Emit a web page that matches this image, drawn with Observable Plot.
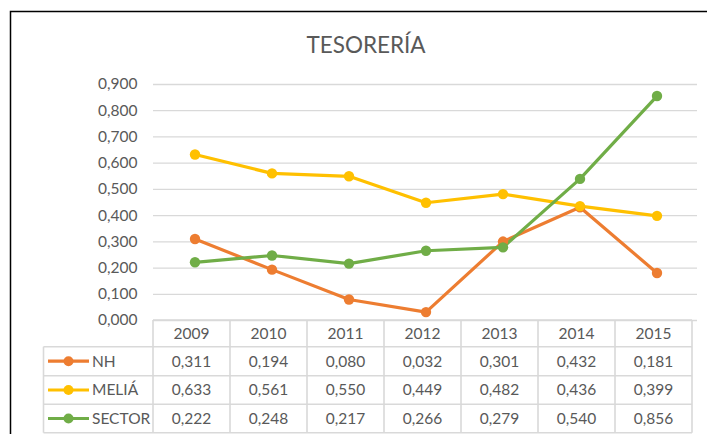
<!DOCTYPE html>
<html>
<head>
<meta charset="utf-8">
<script src="https://cdn.jsdelivr.net/npm/d3@7"></script>
<script src="https://cdn.jsdelivr.net/npm/@observablehq/plot@0.6"></script>
<style>
  body { margin: 0; background: #fff; }
  #wrap { position: relative; width: 707px; height: 434px; }
</style>
</head>
<body>
<div id="wrap"></div>
<script>
const title = "TESORERÍA";
const years = ["2009", "2010", "2011", "2012", "2013", "2014", "2015"];
const seriesNames = ["NH", "MELIÁ", "SECTOR"];
const nh = [0.311, 0.194, 0.080, 0.032, 0.301, 0.432, 0.181];
const melia = [0.633, 0.561, 0.550, 0.449, 0.482, 0.436, 0.399];
const sector = [0.222, 0.248, 0.217, 0.266, 0.279, 0.540, 0.856];
const yTicks = [0, 0.1, 0.2, 0.3, 0.4, 0.5, 0.6, 0.7, 0.8, 0.9];
const colors = ["#ED7D31", "#FFC000", "#70AD47"];

const valuesBySeries = [nh, melia, sector];
const data = [];
seriesNames.forEach((s, i) => years.forEach((yr, j) => data.push({series: s, year: yr, value: valuesBySeries[i][j]})));

const fmt = v => v.toFixed(3).replace(".", ",");
const FONT = "Lato, 'Open Sans', sans-serif";
const TXT = "#595959";
const GRID = "#D9D9D9";
const FS = 15.5;

const W = 707, H = 434;
const mL = 153, mR = 10, mT = 84, mB = 114;

const plot = Plot.plot({
  width: W, height: H,
  marginLeft: mL, marginRight: mR, marginTop: mT, marginBottom: mB,
  style: {fontFamily: FONT, fontSize: FS + "px", color: TXT, background: "transparent"},
  x: {type: "band", domain: years, padding: 0, axis: null},
  y: {domain: [0, 0.9], ticks: yTicks, tickFormat: fmt, label: null, tickSize: 0, tickPadding: 16},
  color: {domain: seriesNames, range: colors},
  marks: [
    Plot.ruleY(yTicks, {stroke: GRID, strokeWidth: 1.3}),
    Plot.line(data, {x: "year", y: "value", z: "series", stroke: "series", strokeWidth: 3.2, curve: "linear"}),
    Plot.dot(data, {x: "year", y: "value", fill: "series", r: 5.2, stroke: "none"})
  ]
});

const svg = d3.select(plot);
// table, aligned on the band scale
const xsc = plot.scale("x");
const step = xsc.step !== undefined ? xsc.step : (W - mR - mL) / years.length;
const xL = xsc.range ? Math.min(...xsc.range) : mL;
const xR = xL + step * years.length;
const yTop = H - mB;
const rowY = [yTop, 346.7, 375.7, 404.3, 432.7];
const legL = 43.5;
const g = svg.append("g").attr("font-family", FONT).attr("font-size", FS).attr("fill", TXT).attr("text-anchor", "start");
g.append("line").attr("x1", xL).attr("x2", xR).attr("y1", rowY[0]).attr("y2", rowY[0]).attr("stroke", GRID).attr("stroke-width", 1.6);
for (let r = 1; r < rowY.length; r++) {
  g.append("line").attr("x1", legL).attr("x2", xR).attr("y1", rowY[r]).attr("y2", rowY[r]).attr("stroke", GRID).attr("stroke-width", 1.6);
}
for (let c = 0; c <= years.length; c++) {
  const x = xL + c * step;
  g.append("line").attr("x1", x).attr("x2", x).attr("y1", rowY[0]).attr("y2", rowY[4]).attr("stroke", GRID).attr("stroke-width", 1.6);
}
g.append("line").attr("x1", legL).attr("x2", legL).attr("y1", rowY[1]).attr("y2", rowY[4]).attr("stroke", GRID).attr("stroke-width", 1.6);
years.forEach((yr, j) => {
  g.append("text").attr("x", xL + (j + 0.5) * step).attr("y", (rowY[0] + rowY[1]) / 2).attr("dy", "0.35em").attr("text-anchor", "middle").text(yr);
});
valuesBySeries.forEach((vals, i) => {
  const cy = (rowY[i + 1] + rowY[i + 2]) / 2;
  vals.forEach((v, j) => {
    g.append("text").attr("x", xL + (j + 0.5) * step).attr("y", cy).attr("dy", "0.35em").attr("text-anchor", "middle").text(fmt(v));
  });
  g.append("line").attr("x1", 48).attr("x2", 89).attr("y1", cy).attr("y2", cy).attr("stroke", colors[i]).attr("stroke-width", 3.2);
  g.append("circle").attr("cx", 68.5).attr("cy", cy).attr("r", 5).attr("fill", colors[i]);
  g.append("text").attr("x", 92).attr("y", cy).attr("dy", "0.35em").attr("text-anchor", "start").text(seriesNames[i]);
});
svg.append("text").attr("x", 366).attr("y", 53).attr("text-anchor", "middle").attr("font-family", FONT).attr("font-size", 22.5).attr("fill", TXT).text(title);
svg.append("path").attr("d", `M10.5,${H} L10.5,11.5 L${W},11.5`).attr("fill", "none").attr("stroke", "#000").attr("stroke-width", 1.5);

document.getElementById("wrap").appendChild(plot);
</script>
</body>
</html>
